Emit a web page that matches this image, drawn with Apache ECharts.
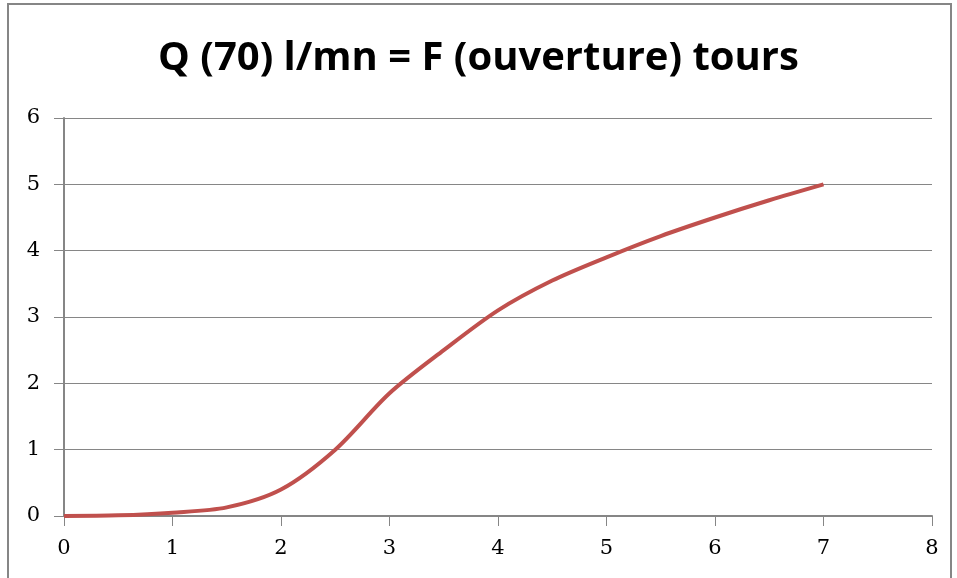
<!DOCTYPE html>
<html>
<head>
<meta charset="utf-8">
<script src="https://cdn.jsdelivr.net/npm/echarts@6/dist/echarts.min.js"></script>
<style>
  html, body { margin: 0; padding: 0; background: #fff; }
  #chart { width: 957px; height: 578px; }
</style>
</head>
<body>
<div id="chart"></div>
<script>
// ouverture (tours) vs debit
var tours = [0, 0.5, 1, 1.5, 2, 2.5, 3, 3.5, 4, 4.5, 5, 5.5, 6, 6.5, 7];
var debit = [0, 0.01, 0.05, 0.13, 0.4, 1.0, 1.85, 2.5, 3.1, 3.55, 3.9, 4.22, 4.5, 4.76, 5.0];

var points = tours.map(function (t, i) { return [t, debit[i]]; });

var chart = echarts.init(document.getElementById('chart'), null, { renderer: 'canvas' });

var axisGray = '#868686';
var labelFont = { color: '#000', fontSize: 21, fontFamily: "'DejaVu Serif', serif" };

var option = {
  backgroundColor: '#ffffff',
  animation: false,
  title: {
    text: 'Q (70) l/mn = F (ouverture) tours',
    left: 'center',
    top: 34,
    textStyle: {
      fontFamily: "'Liberation Sans Narrow', 'Open Sans', sans-serif",
      fontWeight: 'bold',
      fontSize: 40,
      color: '#000'
    }
  },
  graphic: [{
    type: 'rect',
    shape: { x: 8, y: 4, width: 943, height: 600 },
    style: { fill: 'none', stroke: axisGray, lineWidth: 2 },
    silent: true
  }],
  grid: { left: 64, right: 25, top: 118, bottom: 62 },
  xAxis: {
    type: 'value',
    min: 0, max: 8, interval: 1,
    axisLine: { show: true, onZero: false, lineStyle: { color: axisGray, width: 2 } },
    axisTick: { show: true, length: 10, lineStyle: { color: axisGray } },
    axisLabel: Object.assign({ margin: 22 }, labelFont),
    splitLine: { show: false }
  },
  yAxis: {
    type: 'value',
    min: 0, max: 6, interval: 1,
    axisLine: { show: true, lineStyle: { color: axisGray, width: 2 } },
    axisTick: { show: true, length: 10, lineStyle: { color: axisGray } },
    axisLabel: Object.assign({ margin: 24 }, labelFont),
    splitLine: { show: true, lineStyle: { color: axisGray, width: 1 } }
  },
  series: [{
    type: 'line',
    data: points,
    smooth: 0.3,
    showSymbol: false,
    lineStyle: { color: '#C0504D', width: 4 }
  }]
};

chart.setOption(option);
</script>
</body>
</html>
